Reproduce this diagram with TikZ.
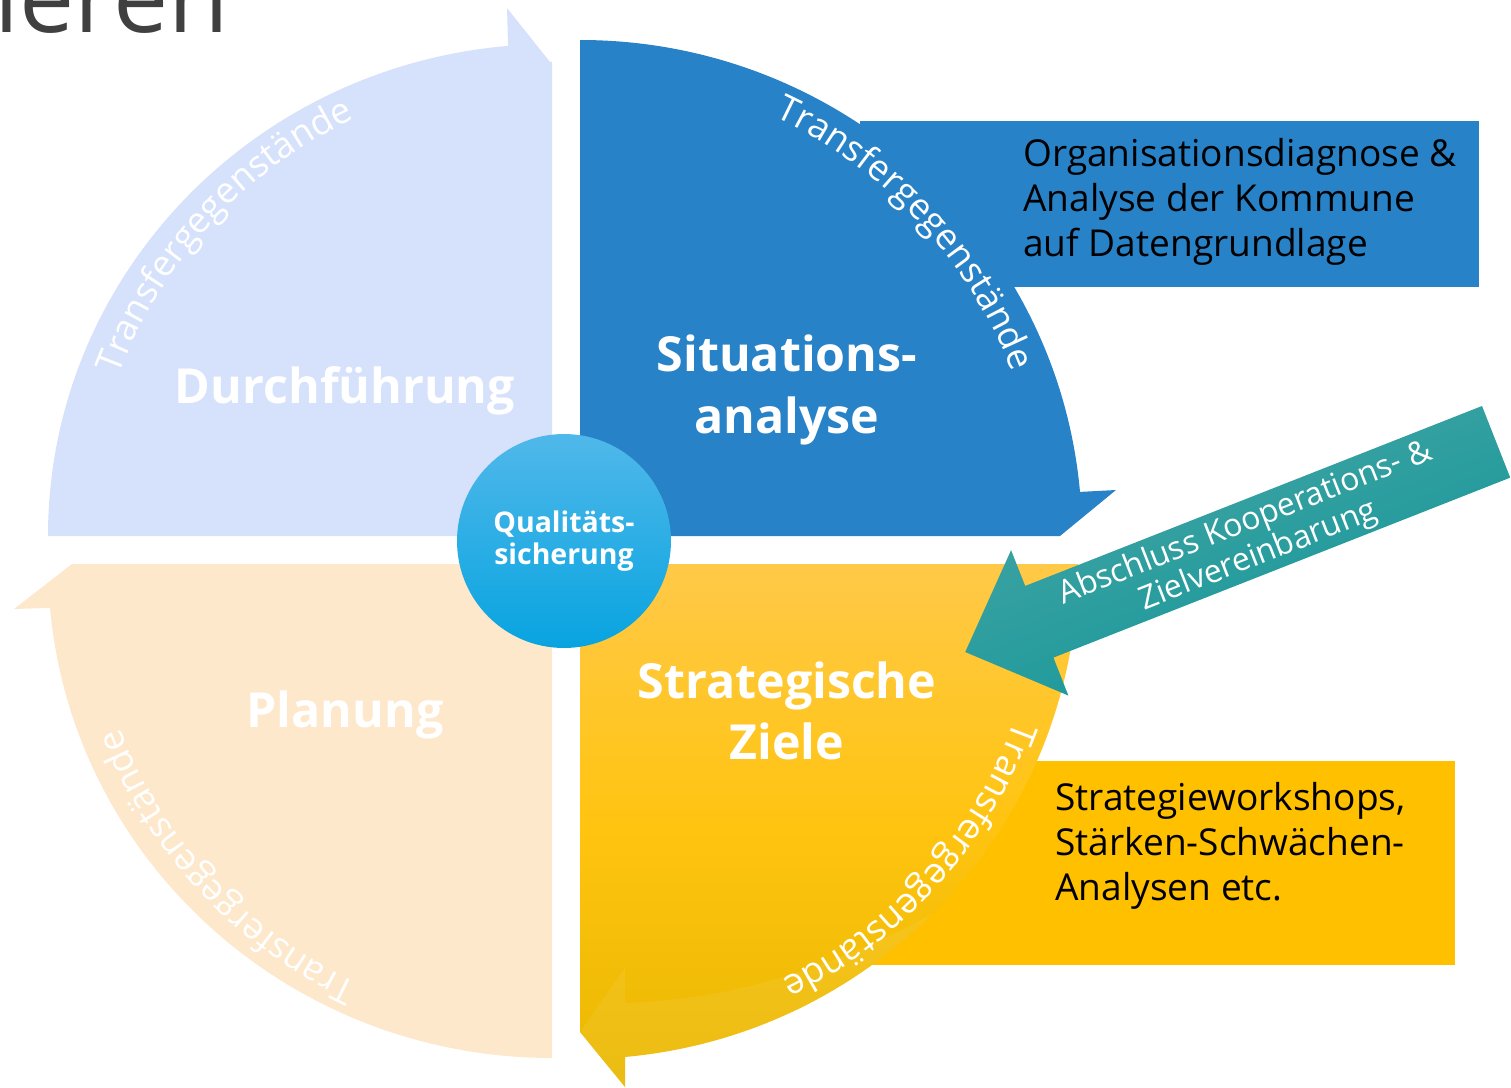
\documentclass[tikz,border=0pt]{standalone}
\usepackage{fontspec}
\setmainfont{Open Sans}
\usetikzlibrary{decorations.text}
\definecolor{qlblue}{RGB}{214,226,251}
\definecolor{qblue}{RGB}{40,130,200}
\definecolor{qpeach}{RGB}{253,232,204}
\definecolor{qyellowA}{RGB}{255,201,72}
\definecolor{qyellowB}{RGB}{255,196,16}
\definecolor{qyellowC}{RGB}{233,184,0}
\definecolor{boxyellow}{RGB}{255,192,0}
\definecolor{tealA}{RGB}{72,165,165}
\definecolor{tealB}{RGB}{16,150,152}
\definecolor{circA}{RGB}{80,184,234}
\definecolor{circB}{RGB}{8,164,224}
\definecolor{titlegray}{RGB}{64,64,64}
\newcommand\arcfnt{\fontsize{20.5}{20.5}\selectfont\color{white}}
\begin{document}
\begin{tikzpicture}[x=0.02cm,y=0.02cm,
  qlabel/.style={text=white, font=\bfseries\fontsize{27.5}{35}\selectfont, align=center, inner sep=0},
  boxtext/.style={anchor=west, align=left, inner sep=0, font=\fontsize{21.1}{25.5}\selectfont, text=black},
  arctxt/.style={decorate, decoration={text along path, text align=center, text={|\arcfnt|Transfergegenstände}}}]
\useasboundingbox (0,0) rectangle (1511,-1088);

% title fragment
\node[anchor=base east, inner sep=0, text=titlegray, font=\fontsize{56}{60}\selectfont] (title) at (229,-33) {ieren};

% info boxes
\fill[qblue] (860,-121) rectangle (1479,-287);
\fill[boxyellow] (870,-761) rectangle (1455,-965);

% quadrants
\fill[qlblue] (552,-536) -- (48,-536) arc[start angle=180, end angle=95, x radius=504, y radius=492] -- (507,-8) -- (550,-62) -- (552,-62) -- cycle;
\fill[qblue] (580,-536) -- (580,-40) arc[start angle=90, end angle=5.1, x radius=502, y radius=496] -- (1116,-490) -- (1060,-536) -- cycle;
\shade[top color=qyellowA, bottom color=qyellowC, middle color=qyellowB] (580,-564) -- (1078,-564) arc[start angle=0, end angle=-84.8, x radius=498, y radius=495] -- (625,-1087) -- (580,-1032) -- cycle;
\fill[white, opacity=0.07] (625,-968) -- (625,-1003) .. controls (720,-1000) and (820,-975) .. (932,-914) arc[start angle=-45, end angle=-84.8, x radius=498, y radius=495] -- (625,-1087) -- (580,-1032) -- cycle;
\fill[qpeach] (552,-564) -- (552,-1058) arc[start angle=270, end angle=185.1, x radius=504, y radius=494] -- (14,-609) -- (72,-564) -- cycle;

% arc texts
\path[arctxt] (552,-536) ++(180:462) arc[start angle=180, end angle=95, radius=462];
\path[arctxt] (580,-536) ++(86:462) arc[start angle=86, end angle=0, radius=462];
\path[arctxt] (580,-564) ++(0:462) arc[start angle=0, end angle=-84, radius=462];
\path[arctxt] (552,-564) ++(266:462) arc[start angle=266, end angle=180, radius=462];

% quadrant labels
\node[qlabel] (durch) at (345,-391) {Durchführung};
\node[qlabel] (sit) at (787,-390) {Situations-\\analyse};
\node[qlabel] (strat) at (787,-711) {Strategische\\Ziele};
\node[qlabel] (plan) at (345,-715) {Planung};

% centre circle
\node[circle, top color=circA, bottom color=circB, minimum size=4.28cm, inner sep=0, text=white, align=center, font=\bfseries\fontsize{16.2}{18.5}\selectfont] (qs) at (564,-541) {Qualitäts-\\sicherung};

% teal arrow
\begin{scope}[shift={(1482,-406)}, rotate=201.5]
\shade[top color=tealA, bottom color=tealB, shading angle=21.5] (0,0) -- (491,0) -- (491,-38.5) -- (571,39.5) -- (491,117.8) -- (491,77) -- (0,77) -- cycle;
\end{scope}
\node[rotate=21.5, text=white, align=center, inner sep=0, font=\fontsize{18.2}{20}\selectfont] (coop) at (1252,-540) {Abschluss Kooperations- \&\\Zielvereinbarung};

% box texts
\node[boxtext] (orgtxt) at (1023,-202) {Organisationsdiagnose \&\\Analyse der Kommune\\auf Datengrundlage};
\node[boxtext] (strattxt) at (1055,-846) {Strategieworkshops,\\Stärken-Schwächen-\\Analysen etc.};
\end{tikzpicture}
\end{document}
